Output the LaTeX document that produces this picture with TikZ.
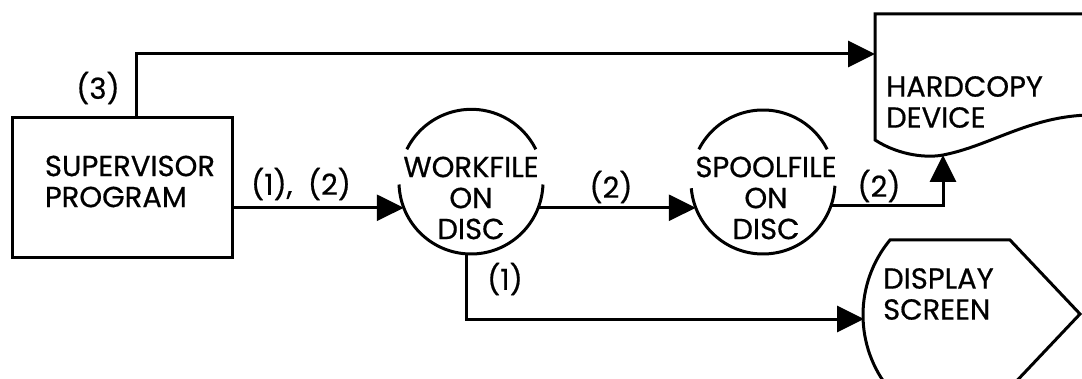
\documentclass[tikz,border=0pt]{standalone}
\usepackage{fontspec}
\setmainfont{Poppins}[FakeBold=0.6]
\usetikzlibrary{arrows.meta}
\begin{document}
\begin{tikzpicture}[x=1pt,y=1pt,
  txt/.style={font=\fontsize{29}{31}\selectfont, inner sep=0pt},
  ln/.style={line width=3pt},
  arr/.style={ln, -{Triangle[length=27pt,width=26pt]}},
  disc/.style={circle, minimum size=144pt, inner sep=0pt, outer sep=0pt}]
\useasboundingbox (0,0) rectangle (1082,378);

% supervisor program box
\node[draw, ln, minimum width=220pt, minimum height=139pt, inner sep=0pt, outer sep=0pt,
      label={[txt, align=left, xshift=8pt, yshift=6pt]center:SUPERVISOR\\PROGRAM}]
      (sup) at (122,190.5) {};

% workfile and spoolfile discs (circles broken by their first text line)
\node[disc, label={[txt, align=center, yshift=-16pt]center:WORKFILE\\ON\\DISC}] (wf) at (471,196) {};
\node[disc, label={[txt, align=center, yshift=-16pt, xshift=3pt]center:SPOOLFILE\\ON\\DISC}] (sp) at (763,196) {};
\draw[ln] (wf.153.6) arc[start angle=153.6, end angle=26.4, radius=72pt];
\draw[ln] (wf.182) arc[start angle=182, end angle=358, radius=72pt];
\draw[ln] (sp.153) arc[start angle=153, end angle=27, radius=72pt];
\draw[ln] (sp.185) arc[start angle=185, end angle=357, radius=72pt];

% hardcopy device
\node[txt, align=left, anchor=west] (hc) at (886,276) {HARDCOPY\\DEVICE};
\coordinate (hcl) at (875,324);
\coordinate (hcb) at (943,223);
\begin{scope}
\clip (0,0) rectangle (1082,378);
\draw[ln] (1090,364) -- (875,364) -- (875,238)
  .. controls (900,222) and (928,220) .. (943,223)
  .. controls (990,232) and (1030,262) .. (1090,263);
% display screen
\draw[ln] (890,-12) arc[start angle=219.6, end angle=140.4, radius=117.7pt]
  -- (1010,138) -- (1080,64) -- (1010,-10);
\end{scope}
\node[txt, align=left, anchor=west] (ds) at (883,84) {DISPLAY\\SCREEN};
\coordinate (dsl) at (864,59);

% connectors
\draw[arr] (sup.east |- wf.201) -- (wf.201);
\draw[arr] (wf.-21) -- (sp.201);
\draw[arr] (sp.-19) -| (hcb);
\draw[arr] ([xshift=14pt]sup.north) |- (hcl);
\draw[arr] ([xshift=-5pt]wf.south) |- (dsl);

% labels
\node[txt] (l3) at (98,290) {(3)};
\node[txt] (l12) at (301,194) {(1),\ \ (2)};
\node[txt] (l2a) at (611,191) {(2)};
\node[txt] (l2b) at (879,192) {(2)};
\node[txt] (l1) at (505,99) {(1)};
\end{tikzpicture}
\end{document}
